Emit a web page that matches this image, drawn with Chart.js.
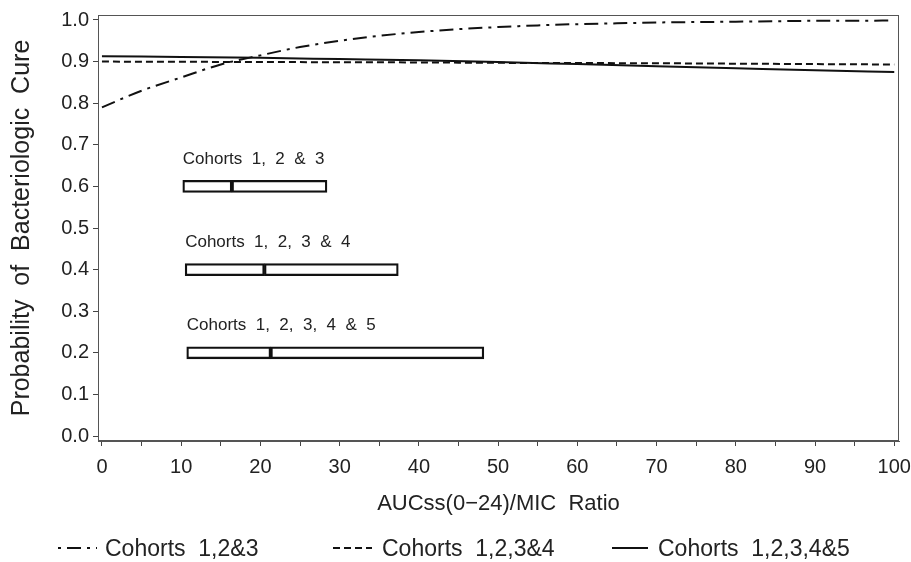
<!DOCTYPE html>
<html><head><meta charset="utf-8">
<script src="https://cdn.jsdelivr.net/npm/chart.js@4.4.1/dist/chart.umd.min.js"></script>
<style>html,body{margin:0;padding:0;background:#fff}#wrap{width:911px;height:562px}</style>
</head><body><div id="wrap"><canvas id="c" width="911" height="562"></canvas></div>
<script>
// ---- data ----
const xDense = [0,5,10,15,20,25,30,35,40,45,50,55,60,65,70,75,80,85,90,95,100];
const cohorts123 = [0.790,0.830,0.862,0.893,0.915,0.935,0.950,0.962,0.971,0.978,0.983,0.987,0.990,0.992,0.994,0.995,0.996,0.997,0.998,0.998,0.999];
const xSparse = [0,10,20,30,40,50,60,70,80,90,100];
const cohorts1234 = [0.900,0.8995,0.899,0.8985,0.898,0.897,0.8965,0.896,0.895,0.894,0.893];
const cohorts12345 = [0.913,0.911,0.909,0.906,0.903,0.899,0.894,0.889,0.884,0.879,0.875];
const seriesLabels = ['Cohorts  1,2&3','Cohorts  1,2,3&4','Cohorts  1,2,3,4&5'];

const boxLabels = ['Cohorts  1,  2  &  3','Cohorts  1,  2,  3  &  4','Cohorts  1,  2,  3,  4  &  5'];
const boxLevels = [0.6,0.4,0.2];
const boxQ1 = [10.2,10.5,10.7];
const boxMedian = [16.4,20.5,21.3];
const boxQ3 = [28.4,37.4,48.2];

const yTickValues = [0,0.1,0.2,0.3,0.4,0.5,0.6,0.7,0.8,0.9,1.0];
const xTickValues = [0,5,10,15,20,25,30,35,40,45,50,55,60,65,70,75,80,85,90,95,100];
const xLabelled = [0,10,20,30,40,50,60,70,80,90,100];

const INK = '#111';
const FONT = 'Liberation Sans';
const dashes = [[14,6,3,6],[7,4],[]];
const legendDashOffsets = [20,0,0];

const lineDs = (label, xs, ys, dash) => ({
  type: 'scatter', label, showLine: true, pointRadius: 0,
  borderColor: INK, borderWidth: 2, borderDash: dash, fill: false,
  cubicInterpolationMode: 'monotone',
  data: xs.map((x, i) => ({x, y: ys[i]}))
});
const boxDs = (lo, hi) => ({
  type: 'bar', indexAxis: 'y', grouped: false, barThickness: 12,
  backgroundColor: 'rgba(255,255,255,0)', borderColor: INK, borderWidth: 1.6,
  borderSkipped: false,
  data: boxLevels.map((y, i) => ({x: [lo[i], hi[i]], y}))
});

const framePlugin = {
  id: 'frame',
  afterDatasetsDraw(chart) {
    const {ctx, chartArea: a} = chart;
    ctx.save();
    ctx.strokeStyle = '#555'; ctx.lineWidth = 1;
    ctx.strokeRect(a.left + 0.5, a.top + 0.5, a.right - a.left - 1, a.bottom - a.top - 1);
    // box labels
    const xs = chart.scales.x, ys = chart.scales.y;
    ctx.fillStyle = '#222'; ctx.font = '17px "' + FONT + '"';
    ctx.textBaseline = 'middle'; ctx.textAlign = 'left';
    boxLabels.forEach((t, i) => {
      ctx.fillText(t, xs.getPixelForValue(boxQ1[i]), ys.getPixelForValue(boxLevels[i]) - 27);
    });
    ctx.restore();
  },
  afterDraw(chart) {
    const {ctx} = chart;
    const items = [
      {sx: 58, ex: 97, tx: 105},
      {sx: 333, ex: 372, tx: 382},
      {sx: 612, ex: 648, tx: 658}
    ];
    const y = 550;
    ctx.save();
    ctx.font = '23px "' + FONT + '"';
    ctx.textBaseline = 'middle'; ctx.fillStyle = '#222';
    items.forEach((it, i) => {
      ctx.strokeStyle = INK; ctx.lineWidth = 2;
      ctx.setLineDash(dashes[i]);
      ctx.lineDashOffset = legendDashOffsets[i];
      ctx.beginPath(); ctx.moveTo(it.sx, y - 2); ctx.lineTo(it.ex, y - 2); ctx.stroke();
      ctx.setLineDash([]);
      ctx.fillText(seriesLabels[i], it.tx, y);
    });
    ctx.restore();
  }
};

new Chart(document.getElementById('c'), {
  type: 'scatter',
  data: {
    datasets: [
      lineDs(seriesLabels[0], xDense, cohorts123, dashes[0]),
      lineDs(seriesLabels[1], xSparse, cohorts1234, dashes[1]),
      lineDs(seriesLabels[2], xSparse, cohorts12345, dashes[2]),
      boxDs(boxQ1, boxMedian),
      boxDs(boxMedian, boxQ3)
    ]
  },
  options: {
    responsive: false, animation: false, devicePixelRatio: 1,
    layout: {padding: {top: 15, right: 12, bottom: 41, left: 0}},
    plugins: {legend: {display: false}, tooltip: {enabled: false}},
    scales: {
      x: {
        type: 'linear', position: 'bottom', min: -0.5, max: 100.6, offset: false,
        afterBuildTicks: s => { s.ticks = xTickValues.map(v => ({value: v})); },
        afterFit: s => { s.height = 80; s.paddingLeft = 0; s.paddingRight = 0; },
        grid: {drawOnChartArea: false, drawTicks: true, tickLength: 5, color: '#444', offset: false},
        border: {display: true, color: '#555', width: 1},
        ticks: {
          autoSkip: false, maxRotation: 0, padding: 9, color: '#222',
          font: {family: FONT, size: 20},
          callback: v => xLabelled.includes(v) ? String(v) : ''
        },
        title: {display: true, text: 'AUCss(0\u221224)/MIC  Ratio', color: '#222',
          font: {family: FONT, size: 22}, padding: {top: 0, bottom: 4}}
      },
      y: {
        type: 'linear', position: 'left', min: -0.012, max: 1.012, offset: false,
        afterBuildTicks: s => { s.ticks = yTickValues.map(v => ({value: v})); },
        afterFit: s => { s.width = 98; s.paddingTop = 0; s.paddingBottom = 0; },
        grid: {drawOnChartArea: false, drawTicks: true, tickLength: 5, color: '#444', offset: false},
        border: {display: true, color: '#555', width: 1},
        ticks: {
          padding: 4, color: '#222', font: {family: FONT, size: 20},
          callback: v => v.toFixed(1)
        },
        title: {display: true, text: 'Probability  of  Bacteriologic  Cure', color: '#222',
          font: {family: FONT, size: 25}, padding: {top: 7, bottom: 0}}
      }
    }
  },
  plugins: [framePlugin]
});
</script></body></html>
